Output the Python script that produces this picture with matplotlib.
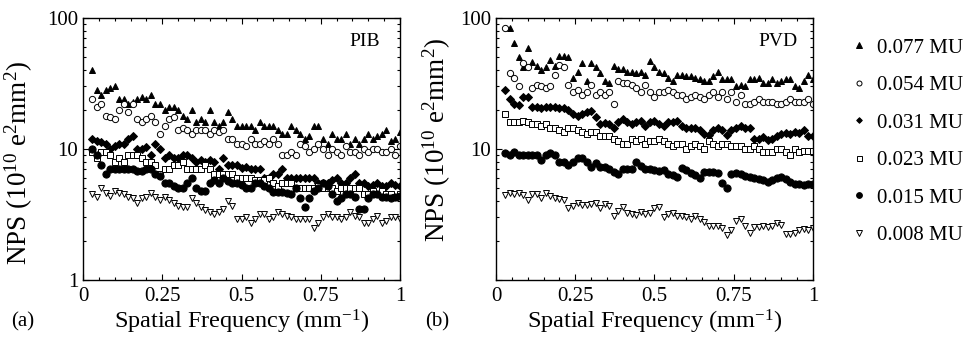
import numpy as np
import matplotlib.pyplot as plt
from matplotlib.ticker import FixedLocator, LogLocator, NullFormatter, MultipleLocator

plt.rcParams['font.family'] = ['Liberation Serif', 'DejaVu Serif']
plt.rcParams['mathtext.default'] = 'regular'

# frequency bins (mm^-1)
freq = np.arange(2, 71) / 70.0

labels = ["0.077 MU", "0.054 MU", "0.031 MU", "0.023 MU", "0.015 MU", "0.008 MU"]

# PIB panel
pib_077 = [40, 28, 26, 28, 29, 30, 24,
           24, 22, 23, 24, 25, 24, 26,
           22, 22, 20, 21, 21, 20, 18,
           17, 20, 16, 17, 16, 20, 16,
           15, 16, 19, 17, 15, 15, 15,
           15, 14, 16, 15, 15, 15, 14,
           13, 13, 15, 14, 13, 12, 12.5,
           15, 15, 12, 11, 13, 12, 12,
           13, 11, 12, 11, 12, 13, 12,
           12.5, 13, 14, 11.5, 12, 13.5]
pib_054 = [24, 21, 22, 18, 17.5, 17, 20,
           22, 19, 22, 17, 16, 17, 18,
           16, 13, 15, 17, 17.5, 14, 14.5,
           14, 13, 14, 14, 14, 13, 14,
           13.5, 14, 12, 12, 11, 11, 10.5,
           12, 11, 11, 11.5, 11, 12, 11,
           9, 9, 9.5, 9, 11, 10.5, 9.5,
           10, 11, 10, 9, 10, 9.5, 9,
           10.5, 9.5, 9.5, 9, 10, 9.5, 10,
           10, 9.5, 9.5, 10, 9, 10.5]
pib_031 = [12, 11.5, 11.3, 11, 10, 10.5, 11,
           11, 12, 12.5, 10, 10, 10.3, 9,
           11, 10, 8.5, 9, 8.5, 8.5, 9,
           9, 8.5, 8, 8.2, 8, 8.3, 8,
           7, 8.5, 7.5, 7.5, 7.5, 7.2, 7.3,
           7, 7, 7, 6, 6, 6.5, 6.5,
           7, 6, 6, 6, 6, 6, 6,
           6, 5.5, 5.5, 5.5, 5.8, 6, 5.5,
           5.5, 6, 6.5, 5.5, 5.5, 5.2, 5.3,
           5.5, 5.2, 5.2, 5.5, 5.3, 5.2]
pib_023 = [9.5, 8.5, 9.5, 9.5, 9, 8, 8.5,
           8, 9, 9, 9, 8.5, 8, 8,
           7.5, 6.5, 7, 7, 7.5, 7.5, 8,
           7, 7, 7, 7, 7.5, 7, 6.5,
           6.5, 6.5, 6.5, 6.5, 6, 6, 6,
           6, 5.8, 5.8, 5.8, 6, 5.5, 5.2,
           5.5, 5.5, 5.5, 5, 5, 5, 5,
           5, 5.2, 5, 5, 5, 4.8, 5,
           5, 5, 5, 5, 4.5, 4.5, 4.8,
           4.5, 4.8, 4.5, 4.5, 4.3, 4.5]
pib_015 = [10, 9, 7.5, 6.5, 7, 7, 7,
           7, 7, 7, 6.8, 6.8, 7, 7,
           6.5, 6.2, 5.5, 5.5, 5.2, 5, 5,
           5.5, 6, 5, 4.8, 4.8, 5.5, 5.8,
           5.5, 6, 5.7, 5.5, 5.5, 5.3, 5,
           5, 5.5, 5.5, 5.2, 5, 4.7, 4.7,
           4.7, 4.6, 4.5, 5, 4.2, 3.6, 4.2,
           4.8, 5, 5.5, 5.2, 4.5, 4, 4.2,
           4.5, 4.5, 4.3, 3.5, 3.5, 4.2, 4.5,
           4.5, 4.3, 4.3, 4.2, 4.3, 4.4]
pib_008 = [4.5, 4.3, 5, 4.6, 4.4, 4.8, 4.6,
           4.5, 4.3, 4.2, 3.9, 4.2, 4.3, 4.6,
           4.3, 4.1, 4.3, 4.1, 3.9, 3.7, 3.6,
           3.6, 4.2, 3.9, 3.6, 3.4, 3.3, 3.2,
           3.3, 3.5, 4, 3.7, 2.9, 2.9, 3,
           2.7, 2.9, 3.2, 3.2, 2.9, 3, 3.3,
           3.2, 3.1, 3, 2.9, 2.9, 2.9, 2.9,
           2.5, 2.7, 3, 3.2, 3, 3, 2.9,
           3, 3.3, 3.1, 3, 2.7, 2.7, 2.9,
           3.1, 2.7, 2.8, 3, 3, 2.9]

# PVD panel
pvd_077 = [np.nan, 84, 65, 50, 42, 59, 46,
           43, 40, 42, 48, 43, 51, 51,
           50, 35, 39, 45, 33, 45, 42,
           38, 33, 32, 43, 41, 41, 39,
           39, 38, 39, 37, 47, 42, 39,
           38, 35, 33, 37, 37, 36, 36,
           35, 34, 33, 33, 36, 39, 34,
           34, 34, 30, 31, 30, 34, 34,
           35, 32, 32, 34, 32, 33, 34,
           34, 30, 29, 33, 37, 34]
pvd_054 = [84, 38, 35, 30, 45, 42, 29,
           31, 30, 29, 30, 37, 44, 42,
           31, 27, 28, 26, 27, 31, 26,
           27, 26, 27, 22, 33, 32, 32,
           31, 29, 27, 31, 27, 25, 27,
           27, 28, 27, 26, 26, 24, 25,
           26, 25, 24, 26, 27, 25, 27,
           24, 27, 23, 26, 22, 22, 23,
           24, 23, 23, 23, 22, 22, 23,
           24, 23, 23, 23, 24, 22]
pvd_031 = [28, 24, 22, 21.5, 25, 25, 21,
           21, 20.5, 21, 21, 21, 20.5, 20.5,
           20, 18.5, 18, 18.5, 19, 19.5, 17.5,
           15.5, 15.8, 15.5, 14.5, 16, 17, 16,
           15.5, 16, 16.5, 15, 16, 16.5, 15.5,
           15, 16, 16, 16.5, 15, 14.5, 14.5,
           14.5, 14, 13, 12.8, 14, 14.5, 14,
           12.8, 14, 14.5, 15, 14.5, 14.5, 12,
           12, 12.3, 11.8, 12, 12.5, 13, 13.2,
           13, 13.5, 13.3, 14, 12.5, 12.5]
pvd_023 = [18.5, 16, 16, 16, 16.5, 16, 15.5,
           15.5, 15, 15.5, 14.5, 14.5, 14, 13.5,
           14.5, 14.5, 14, 13.5, 13, 13.5, 13.5,
           12.5, 12.5, 12.5, 12, 11.5, 11, 11,
           12, 11.5, 12, 11, 11.5, 11.5, 12,
           11.5, 11, 10.5, 11, 11, 10, 10.5,
           11, 10.5, 10, 11.5, 11, 10.5, 11,
           11, 10.5, 10.5, 10.5, 10, 10, 10.5,
           10, 9.5, 9.5, 9.5, 10, 10, 9.5,
           9, 10, 9.5, 9.7, 9.7, 9.7]
pvd_015 = [9.3, 9, 9.5, 9, 9, 9, 9,
           9, 8.2, 9, 9.3, 9, 8, 8,
           7.5, 8, 8.5, 8.5, 8, 7.3, 7.8,
           7.3, 7.3, 7, 6.7, 6.5, 7, 7,
           7, 8, 7.4, 7, 7, 6.9, 6.8,
           6.9, 6.5, 6.3, 6.1, 7.1, 6.9, 6.6,
           6.3, 6.0, 6.7, 6.7, 6.7, 6.6, 5.5,
           5.0, 6.4, 6.6, 6.4, 6.2, 6.1, 6.0,
           5.9, 5.8, 5.6, 5.8, 6.0, 6.1, 5.9,
           5.6, 5.4, 5.4, 5.3, 5.4, 5.4]
pvd_008 = [4.45, 4.6, 4.5, 4.6, 4.45, 4.07, 4.5,
           4.5, 4.2, 4.6, 4.35, 4.2, 4.15, 4.07,
           3.55, 3.7, 3.85, 3.75, 3.75, 3.8, 3.9,
           3.55, 3.8, 3.7, 3.1, 3.35, 3.6, 3.25,
           3.2, 3.15, 3.3, 3.2, 3.25, 3.55, 3.6,
           3.0, 3.2, 3.25, 3.1, 3.1, 3.0, 2.9,
           3.1, 2.9, 2.75, 2.6, 2.6, 2.6, 2.5,
           2.2, 2.4, 2.8, 2.9, 2.6, 2.3, 2.55,
           2.55, 2.6, 2.55, 2.6, 2.7, 2.65, 2.25,
           2.25, 2.3, 2.4, 2.45, 2.4, 2.5]

pib = [pib_077, pib_054, pib_031, pib_023, pib_015, pib_008]
pvd = [pvd_077, pvd_054, pvd_031, pvd_023, pvd_015, pvd_008]

styles = [dict(marker='^', mfc='black', ms=5),
          dict(marker='o', mfc='white', ms=4.5),
          dict(marker='D', mfc='black', ms=3.6),
          dict(marker='s', mfc='white', ms=4.5),
          dict(marker='o', mfc='black', ms=5.2),
          dict(marker='v', mfc='white', ms=5)]

fig = plt.figure(figsize=(9.69, 3.37), dpi=100)
ax1 = fig.add_axes([83 / 969, 57 / 337, 317 / 969, 262 / 337])
ax2 = fig.add_axes([496 / 969, 57 / 337, 317 / 969, 262 / 337])

for ax, series, name in [(ax1, pib, "PIB"), (ax2, pvd, "PVD")]:
    for vals, st, lab in zip(series, styles, labels):
        ax.plot(freq, vals, linestyle='none', mec='black', mew=0.7,
                label=lab, **st)
    ax.set_yscale('log')
    ax.set_xlim(0, 1)
    ax.set_ylim(1, 100)
    ax.xaxis.set_major_locator(FixedLocator([0, 0.25, 0.5, 0.75, 1]))
    ax.set_xticklabels(["0", "0.25", "0.5", "0.75", "1"])
    ax.xaxis.set_minor_locator(MultipleLocator(0.05))
    ax.yaxis.set_minor_locator(LogLocator(base=10, subs=np.arange(2, 10)))
    ax.yaxis.set_minor_formatter(NullFormatter())
    ax.tick_params(which='both', direction='in', top=True, right=True,
                   labelsize=15, width=0.8)
    ax.tick_params(which='major', length=4)
    ax.tick_params(axis='x', which='major', pad=5)
    ax.tick_params(which='minor', length=2.2)
    for sp in ax.spines.values():
        sp.set_linewidth(1.0)
    ax.set_xlabel("Spatial Frequency (mm$^{-1}$)", fontsize=17.5, labelpad=1)
    ax.set_ylabel("NPS (10$^{10}$ e$^{2}$mm$^{2}$)", fontsize=19.5)
    ax.text(0.89, 0.91, name, transform=ax.transAxes, fontsize=14,
            ha='center', va='center')

ax1.yaxis.set_major_locator(FixedLocator([1, 10, 100]))
ax1.set_yticklabels(["1", "10", "100"])
ax2.yaxis.set_major_locator(FixedLocator([1, 10, 100]))
ax2.set_yticklabels(["", "10", "100"])
ax1.yaxis.set_label_coords(-0.15, 0.447)
ax2.yaxis.set_label_coords(-0.135, 0.534)

fig.text(23 / 969, 1 - 322 / 337, "(a)", fontsize=15, ha='center', va='center')
fig.text(437 / 969, 1 - 322 / 337, "(b)", fontsize=15, ha='center', va='center')

handles, labs = ax2.get_legend_handles_labels()
fig.legend(handles, labs, loc='upper left', bbox_to_anchor=(851 / 969, 1 - 38 / 337),
           frameon=False, fontsize=15, markerscale=0.8, handlelength=0.8,
           handletextpad=0.45, labelspacing=0.86, numpoints=1,
           borderaxespad=0, borderpad=0)

fig.savefig("out.png", dpi=100)
